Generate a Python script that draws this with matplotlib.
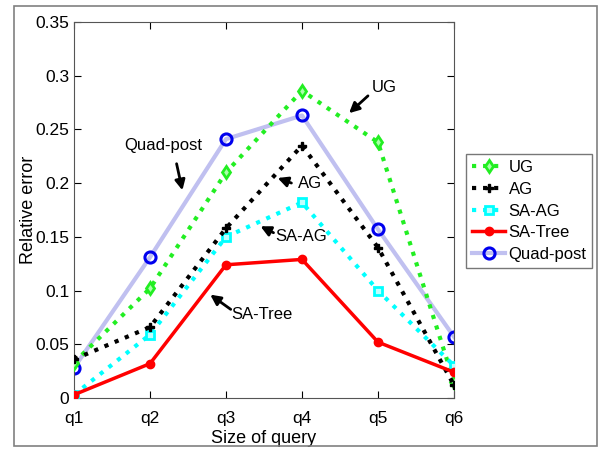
import matplotlib.pyplot as plt
from matplotlib.patches import Rectangle

plt.rcParams['font.family'] = ['Liberation Sans', 'DejaVu Sans']

queries = ['q1', 'q2', 'q3', 'q4', 'q5', 'q6']
ug = [0.033, 0.102, 0.210, 0.286, 0.238, 0.015]
ag = [0.036, 0.066, 0.158, 0.235, 0.140, 0.012]
sa_ag = [0.003, 0.059, 0.150, 0.182, 0.100, 0.030]
sa_tree = [0.003, 0.032, 0.124, 0.129, 0.052, 0.024]
quad_post = [0.028, 0.131, 0.241, 0.263, 0.157, 0.057]

x = list(range(1, 7))

fig = plt.figure(figsize=(6.01, 4.5), dpi=100)
ax = fig.add_axes([74 / 601, 1 - 398 / 450, 380 / 601, 376 / 450])

# outer gray frame
fig.patches.append(Rectangle((14 / 601, 1 - 446 / 450), 583 / 601, 440 / 450,
                             transform=fig.transFigure, fill=False,
                             edgecolor='#808080', linewidth=1.2))

ax.plot(x, ug, color='#22ee22', linestyle=':', linewidth=3, marker='d',
        markersize=6, markerfacecolor='#aaffaa', markeredgecolor='#22ee22',
        markeredgewidth=2, label='UG', zorder=3)
ax.plot(x, ag, color='black', linestyle=':', linewidth=3, marker='P',
        markersize=6, label='AG', zorder=4)
ax.plot(x, sa_ag, color='cyan', linestyle=':', linewidth=3, marker='s',
        markersize=6, markerfacecolor='#bfffff', markeredgecolor='cyan',
        markeredgewidth=2, label='SA-AG', zorder=3)
ax.plot(x, sa_tree, color='red', linestyle='-', linewidth=2.5, marker='o',
        markersize=6, label='SA-Tree', zorder=5)
ax.plot(x, quad_post, color='#c0c0f0', linestyle='-', linewidth=3, marker='o',
        markersize=8, markerfacecolor='none', markeredgecolor='#0000ee',
        markeredgewidth=2.2, label='Quad-post', zorder=2)

ax.set_xlim(1, 6)
ax.set_ylim(0, 0.35)
ax.set_xticks(x)
ax.set_xticklabels(queries)
ax.set_yticks([0, 0.05, 0.1, 0.15, 0.2, 0.25, 0.3, 0.35])
ax.set_yticklabels(['0', '0.05', '0.1', '0.15', '0.2', '0.25', '0.3', '0.35'])
ax.tick_params(direction='in', labelsize=12.5, top=True, right=True, length=5)
ax.tick_params(axis='x', pad=9)
for s in ax.spines.values():
    s.set_color('#555555')
ax.set_xlabel('Size of query', fontsize=13, labelpad=3)
ax.set_ylabel('Relative error', fontsize=13, labelpad=-1)

arrow = dict(arrowstyle='-|>', color='black', lw=2, mutation_scale=15)
notes = [
    ('UG', (5.08, 0.2886), (4.895, 0.283), (4.592, 0.2634)),
    ('Quad-post', (2.171, 0.2355), (2.342, 0.2206), (2.434, 0.1908)),
    ('AG', (4.105, 0.2001), (3.895, 0.1992), (3.645, 0.2057)),
    ('SA-AG', (3.987, 0.1499), (3.658, 0.1527), (3.421, 0.1610)),
    ('SA-Tree', (3.474, 0.0773), (3.092, 0.0810), (2.763, 0.0977)),
]
for txt, pos, tail, head in notes:
    ax.text(pos[0], pos[1], txt, fontsize=12, ha='center', va='center')
    ax.annotate('', xy=head, xytext=tail, arrowprops=arrow)

ax.legend(loc='center left', bbox_to_anchor=(1.032, 0.497), fontsize=12,
          frameon=True, fancybox=False, edgecolor='#555555',
          handlelength=2.0, borderpad=0.35, labelspacing=0.4, handletextpad=0.2,
          borderaxespad=0)

fig.savefig('out.png', dpi=100)
